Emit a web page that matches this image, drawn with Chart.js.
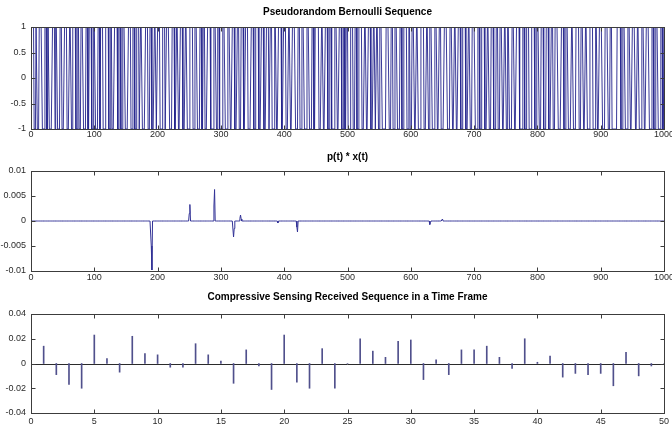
<!DOCTYPE html>
<html><head><meta charset="utf-8">
<script src="https://cdn.jsdelivr.net/npm/chart.js@4.4.1/dist/chart.umd.min.js"></script>
<style>
html,body{margin:0;padding:0;background:#fff;overflow:hidden;width:672px;height:432px;position:relative;}
.wrap{position:absolute;left:0;width:690px;height:144px;}
canvas{display:block;}
</style></head><body>
<div class="wrap" style="top:0px"><canvas id="c1" width="690" height="144"></canvas></div>
<div class="wrap" style="top:144px"><canvas id="c2" width="690" height="144"></canvas></div>
<div class="wrap" style="top:288px"><canvas id="c3" width="690" height="144"></canvas></div>
<script>
// ---------- DATA ----------
// Panel 1: pseudorandom Bernoulli sequence (1 = +1, 0 = -1), 1000 samples
const bernoulliBits = [
 "1111000110 0011111000 0111001100 0001111011 1000011100",
 "0011110000 1110011111 0001100011 1100001110 0111100011",
 "1000011101 1110000111 1100011000 0111110011 1000111100",
 "0001111000 1110001111 0011100000 1111000111 0000111001",
 "1110000111 1001111100 0011110001 1100011110 0001110000",
 "1111100011 1100001110 0111000011 1110000011 1100111000",
 "0011110000 1111000111 1000011100 0111100011 1100000111",
 "1000111110 0001111000 0111100111 0000111000 1111100011",
 "1100001110 0011111000 0111000111 1000011110 0001110011",
 "1111000011 1000111100 0111000001 1110001111 0001100111",
 "0000111100 0111000111 1100001110 0011110000 1110011100",
 "1111000000 1111100011 1000111100 0011100011 1110001100",
 "0111100011 1000011111 0000111001 1110000111 1000111000",
 "0011111000 0111100011 1000111100 0111110000 1110001111",
 "1000011100 0111110000 1110001111 0000111000 1111000111",
 "0011100001 1110001111 1000001110 0011110000 1111100011",
 "1100011110 0001111000 0111000111 1100000111 1000111100",
 "0001110000 1111100011 1100011100 0011111000 0111000111",
 "1100001111 1000111000 0000011111 1000111100 0011110001",
 "1111000111 0000111100 0111110000 1110001111 0000111001"
];
const topXTicks = [0,100,200,300,400,500,600,700,800,900,1000];
const topYTicks = [-1,-0.5,0,0.5,1];

// Panel 2: p(t)*x(t) — zero everywhere except these samples
const midLength = 1000;
const midSpikeIdx = [190,191,250,251,289,290,320,321,330,331,332,390,420,421,630,631,650];
const midSpikeVal = [-0.005,-0.0098,0.0015,0.0033,0.003,0.0063,-0.0032,-0.0015,0.0005,0.0012,0.0004,-0.0004,-0.0012,-0.0022,-0.0007,-0.0003,0.0004];
const midXTicks = [0,100,200,300,400,500,600,700,800,900,1000];
const midYTicks = [-0.01,-0.005,0,0.005,0.01];

// Panel 3: compressive sensing received sequence (n = 1..50)
const csValues = [0.014,-0.009,-0.017,-0.020,0.023,0.004,-0.007,0.022,0.008,0.007,
 -0.003,-0.003,0.016,0.007,0.002,-0.016,0.011,-0.002,-0.021,0.023,
 -0.015,-0.020,0.012,-0.020,0.000,0.020,0.010,0.005,0.018,0.019,
 -0.013,0.003,-0.009,0.011,0.011,0.014,0.005,-0.004,0.020,0.001,
 0.006,-0.011,-0.008,-0.009,-0.008,-0.018,0.009,-0.010,-0.002,0.000];
const csXTicks = [0,5,10,15,20,25,30,35,40,45,50];
const csYTicks = [-0.04,-0.02,0,0.02,0.04];

const titles = ["Pseudorandom Bernoulli Sequence", "p(t) * x(t)", "Compressive Sensing Received Sequence in a Time Frame"];

// ---------- BUILD ----------
const bits = bernoulliBits.join("").replace(/\s/g, "").split("");
const topData = bits.map((b, i) => ({x: i + 1, y: b === "1" ? 1 : -1}));

const midArr = new Array(midLength).fill(0);
midSpikeIdx.forEach((k, j) => { midArr[k - 1] = midSpikeVal[j]; });
const midData = midArr.map((v, i) => ({x: i + 1, y: v}));

const csData = csValues.map((v, i) => ({x: i + 1, y: v}));

const FONT = '"Liberation Sans Narrow","Liberation Sans",Arial,sans-serif';
const TICKCOLOR = '#2a2a2a';

const framePlugin = {
  id: 'frame',
  afterDraw(chart) {
    const {ctx, chartArea: a, scales: {x, y}} = chart;
    ctx.save();
    ctx.strokeStyle = '#3c3c3c';
    ctx.lineWidth = 1;
    const l = Math.round(a.left) + 0.5, r = Math.round(a.right) + 0.5;
    const t = Math.round(a.top) + 0.5, b = Math.round(a.bottom) + 0.5;
    ctx.strokeRect(l, t, r - l, b - t);
    const L = 4;
    ctx.beginPath();
    x.ticks.forEach(tk => {
      const px = Math.round(x.getPixelForValue(tk.value)) + 0.5;
      ctx.moveTo(px, b); ctx.lineTo(px, b - L);
      ctx.moveTo(px, t); ctx.lineTo(px, t + L);
    });
    y.ticks.forEach(tk => {
      const py = Math.round(y.getPixelForValue(tk.value)) + 0.5;
      ctx.moveTo(l, py); ctx.lineTo(l + L, py);
      ctx.moveTo(r, py); ctx.lineTo(r - L, py);
    });
    ctx.stroke();
    ctx.restore();
  }
};

const baselinePlugin = {
  id: 'baseline',
  beforeDatasetsDraw(chart, args, opts) {
    if (!opts || !opts.enabled) return;
    const {ctx, chartArea: a, scales: {y}} = chart;
    const py = Math.round(y.getPixelForValue(0)) + 0.5;
    ctx.save();
    ctx.strokeStyle = '#2b2b2b';
    ctx.lineWidth = 1;
    ctx.beginPath();
    ctx.moveTo(a.left, py); ctx.lineTo(a.right, py);
    ctx.stroke();
    ctx.restore();
  }
};

function makeOptions(cfg) {
  return {
    responsive: false,
    animation: false,
    events: [],
    layout: {padding: {left: 0, right: 26, top: 0, bottom: 0}},
    plugins: {
      legend: {display: false},
      tooltip: {enabled: false},
      title: {
        display: true, text: cfg.title, fullSize: false, color: '#000',
        font: {family: '"Liberation Sans",Arial,sans-serif', size: 10, weight: 'bold', lineHeight: 1.2},
        padding: {top: cfg.tPadTop, bottom: cfg.tPadBot}
      },
      baseline: {enabled: !!cfg.baseline}
    },
    scales: {
      x: {
        type: 'linear', offset: false, min: cfg.xTicks[0], max: cfg.xTicks[cfg.xTicks.length - 1],
        afterBuildTicks: s => { s.ticks = cfg.xTicks.map(v => ({value: v})); },
        afterFit: s => { s.height = cfg.xH; },
        ticks: {callback: v => String(v), padding: cfg.xPad, maxRotation: 0, autoSkip: false,
          font: {family: FONT, size: 9}, color: TICKCOLOR},
        grid: {display: false, drawTicks: false, offset: false},
        border: {display: false}
      },
      y: {
        type: 'linear', min: cfg.yTicks[0], max: cfg.yTicks[cfg.yTicks.length - 1],
        afterBuildTicks: s => { s.ticks = cfg.yTicks.map(v => ({value: v})); },
        afterFit: s => { s.width = 31; },
        ticks: {callback: v => String(v), padding: 5, autoSkip: false,
          font: {family: FONT, size: 9}, color: TICKCOLOR},
        grid: {display: false, drawTicks: false},
        border: {display: false}
      }
    }
  };
}

new Chart(document.getElementById('c1'), {
  type: 'line',
  data: {datasets: [{data: topData, borderColor: 'rgb(34,34,140)', borderWidth: 0.9, pointRadius: 0, tension: 0, fill: false}]},
  options: makeOptions({title: titles[0], xTicks: topXTicks, yTicks: topYTicks, tPadTop: 6, tPadBot: 9, xH: 15, xPad: 0}),
  plugins: [framePlugin]
});

new Chart(document.getElementById('c2'), {
  type: 'line',
  data: {datasets: [{data: midData, borderColor: 'rgb(50,50,150)', borderWidth: 1, pointRadius: 0, tension: 0, fill: false}]},
  options: makeOptions({title: titles[1], xTicks: midXTicks, yTicks: midYTicks, tPadTop: 7, tPadBot: 8, xH: 17, xPad: 1}),
  plugins: [framePlugin]
});

new Chart(document.getElementById('c3'), {
  type: 'bar',
  data: {datasets: [{data: csData, backgroundColor: 'rgb(80,80,140)', borderWidth: 0, barThickness: 1}]},
  options: makeOptions({title: titles[2], xTicks: csXTicks, yTicks: csYTicks, tPadTop: 3, tPadBot: 11, xH: 19, xPad: 3, baseline: true}),
  plugins: [framePlugin, baselinePlugin]
});
</script>
</body></html>
